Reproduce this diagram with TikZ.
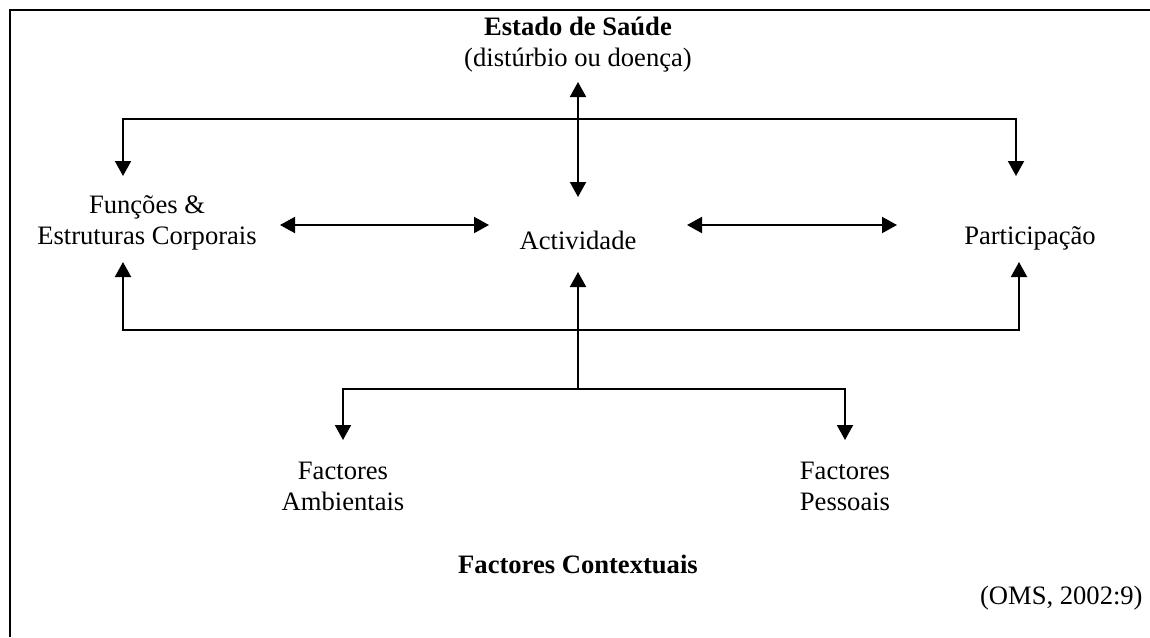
\documentclass[tikz,border=0pt]{standalone}
\usepackage{fontspec}
\setmainfont{Liberation Serif}
\usetikzlibrary{arrows.meta}
\begin{document}
\begin{tikzpicture}[x=0.5pt,y=-0.5pt,
  lbl/.style={align=center,inner sep=0pt,font=\fontsize{13.3}{15.5}\selectfont},
  conn/.style={line width=1pt,{Triangle[length=7.5pt,width=8pt]}-{Triangle[length=7.5pt,width=8pt]}},
  conn1/.style={line width=1pt,-{Triangle[length=7.5pt,width=8pt]}},
  frame/.style={line width=1.2pt}]
\useasboundingbox (0,0) rectangle (1150,637);
\draw[frame] (10,637) -- (10,10) -- (1150,10);
% texts
\node[lbl] (saude) at (578,45) {\textbf{Estado de Saúde}\\(distúrbio ou doença)};
\node[lbl] (func) at (147,223) {Funções \&\\Estruturas Corporais};
\node[lbl] (activ) at (578,240) {Actividade};
\node[lbl] (part) at (1030,238) {Participação};
\node[lbl] (amb) at (343,486) {Factores\\Ambientais};
\node[lbl] (pess) at (845,486) {Factores\\Pessoais};
\node[lbl] (context) at (578,564) {\textbf{Factores Contextuais}};
\node[lbl,anchor=east] (oms) at (1143,598) {(OMS, 2002:9)};
% connector end points
\coordinate (sA) at (578,82);
\coordinate (sB) at (578,197);
\coordinate (fT) at (123,176);
\coordinate (pT) at (1016,176);
\coordinate (fB) at (123,262);
\coordinate (pB) at (1019,262);
\coordinate (fR) at (280,225);
\coordinate (aL) at (489,225);
\coordinate (aR) at (687,225);
\coordinate (pL) at (897,225);
\coordinate (aB) at (578,272);
\coordinate (j) at (578,389);
\coordinate (ambT) at (343,440);
\coordinate (pesT) at (845,440);
% connectors
\draw[conn] (sA) -- (sB);
\draw[conn] (fT) -- (fT |- 0,119) -- (pT |- 0,119) -- (pT);
\draw[conn] (fR) -- (aL);
\draw[conn] (aR) -- (pL);
\draw[conn] (fB) -- (fB |- 0,330) -- (pB |- 0,330) -- (pB);
\draw[conn1] (j) -- (aB);
\draw[conn] (ambT) -- (ambT |- j) -- (pesT |- j) -- (pesT);
\end{tikzpicture}
\end{document}
